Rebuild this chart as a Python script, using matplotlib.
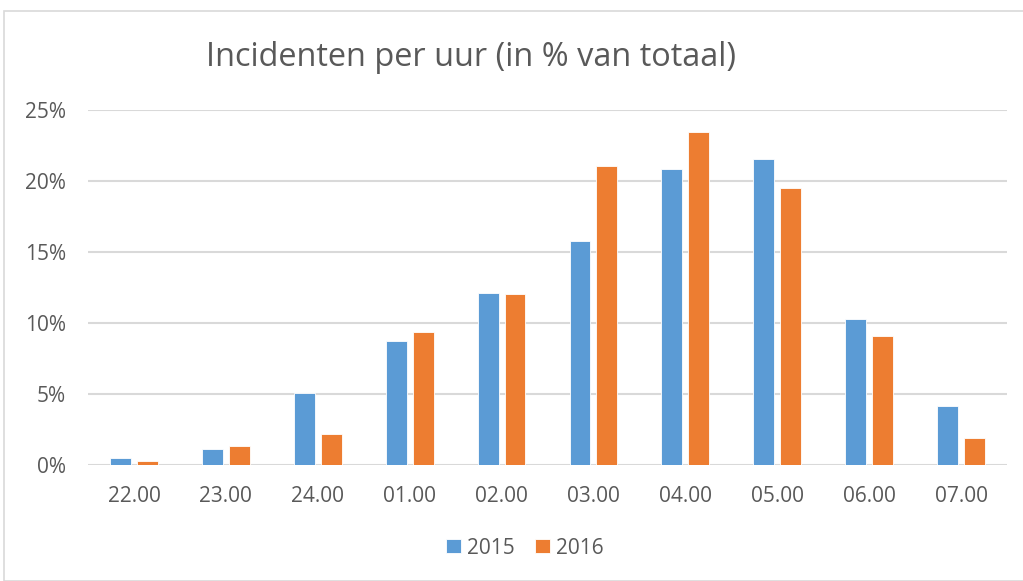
import matplotlib
matplotlib.use("Agg")
import matplotlib.pyplot as plt
import numpy as np
from matplotlib.patches import Rectangle
from matplotlib.ticker import FuncFormatter

categories = ["22.00", "23.00", "24.00", "01.00", "02.00", "03.00", "04.00", "05.00", "06.00", "07.00"]
values_2015 = [0.47, 1.13, 5.05, 8.7, 12.1, 15.77, 20.82, 21.5, 10.28, 4.11]
values_2016 = [0.26, 1.32, 2.14, 9.35, 12.02, 21.06, 23.45, 19.46, 9.06, 1.88]
series_labels = ["2015", "2016"]
yticks = [0, 5, 10, 15, 20, 25]

plt.rcParams['font.family'] = ['Open Sans', 'DejaVu Sans']
text_color = "#595959"
grid_color = "#d9d9d9"

fig = plt.figure(figsize=(10.23, 5.81), dpi=100)
fig.patches.append(Rectangle((4/1023, 0), 1.0, 1 - 11/581, transform=fig.transFigure,
                             fill=False, edgecolor=grid_color, linewidth=1.2, zorder=0))
ax = fig.add_axes([88/1023, 116.3/581, 919/1023, (464.7-109.7)/581])

x = np.arange(len(categories))
w = 0.228
gap = 0.065
off = (w + gap) / 2
b1 = ax.bar(x - off, values_2015, w, color="#5B9BD5", edgecolor="white", linewidth=0.6,
            label=series_labels[0], zorder=3)
b2 = ax.bar(x + off, values_2016, w, color="#ED7D31", edgecolor="white", linewidth=0.6,
            label=series_labels[1], zorder=3)

ax.set_xlim(-0.5, len(categories) - 0.5)
ax.set_ylim(0, 25)
ax.set_yticks(yticks)
ax.yaxis.set_major_formatter(FuncFormatter(lambda v, p: f"{int(v)}%"))
ax.set_xticks(x)
ax.set_xticklabels(categories)
ax.grid(axis="y", color=grid_color, linewidth=1.5, zorder=0)
for s in ax.spines.values():
    s.set_visible(False)
ax.tick_params(axis="both", length=0, colors=text_color, labelsize=15)
ax.tick_params(axis="x", pad=15)
ax.tick_params(axis="y", pad=16)

fig.text(471/1023, 1 - 57/581, "Incidenten per uur (in % van totaal)", ha="center", va="center",
         fontsize=23.4, color=text_color)

leg = fig.legend(handles=[b1, b2], labels=series_labels, loc="center",
                 bbox_to_anchor=(525/1023, 1 - 548/581), ncol=2, frameon=False,
                 fontsize=15, handlelength=0.68, handleheight=0.68, handletextpad=0.3,
                 columnspacing=1.0, labelcolor=text_color)

fig.savefig("out.png", dpi=100)
